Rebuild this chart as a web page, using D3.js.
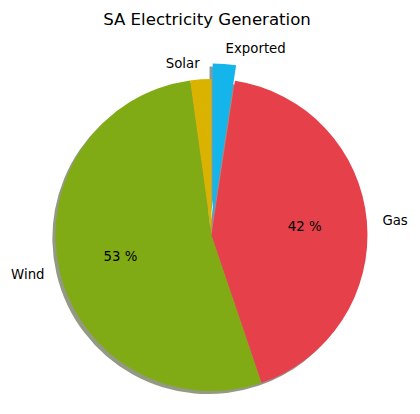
<!DOCTYPE html>
<html>
<head>
<meta charset="utf-8">
<script src="https://cdn.jsdelivr.net/npm/d3@7"></script>
<style>
  html, body { margin: 0; padding: 0; background: #fff; }
  svg text { font-family: "DejaVu Sans", sans-serif; fill: #000; }
</style>
</head>
<body>
<div id="chart"></div>
<script>
// ---- data ----
const categories = ["Solar", "Wind", "Gas", "Exported"];
const values = [2.2, 53.0, 42.4, 2.4];
const colors = ["#d9b300", "#81ab14", "#e6404a", "#13b5ea"];
const explode = [0, 0, 0, 0.1];
const showPct = [false, true, true, false];
const title = "SA Electricity Generation";

// ---- layout ----
const W = 420, H = 414;
const cx = 211.5, cy = 235, R = 156;

const svg = d3.select("#chart").append("svg")
  .attr("width", W).attr("height", H);

svg.append("text")
  .attr("x", 207).attr("y", 25)
  .attr("text-anchor", "middle")
  .style("font-size", "16.6px")
  .text(title);

const data = categories.map((c, i) => ({ name: c, value: values[i], color: colors[i], explode: explode[i], pct: showPct[i] }));
const total = d3.sum(values);

// counterclockwise from 12 o'clock, like matplotlib startangle=90
const pie = d3.pie().sort(null).value(d => d.value)
  .startAngle(0).endAngle(-2 * Math.PI);
const arcs = pie(data);

const arc = d3.arc().innerRadius(0).outerRadius(R);

function offset(a) {
  const m = (a.startAngle + a.endAngle) / 2;
  const e = a.data.explode * R;
  return [Math.sin(m) * e, -Math.cos(m) * e];
}

const g = svg.append("g").attr("transform", `translate(${cx},${cy})`);

// shadows
const sh = 0.02 * R;
g.selectAll("path.shadow").data(arcs).enter().append("path")
  .attr("class", "shadow")
  .attr("d", arc)
  .attr("transform", a => { const o = offset(a); return `translate(${o[0] - sh},${o[1] + sh})`; })
  .attr("fill", a => { const c = d3.rgb(a.data.color); return d3.rgb(c.r * 0.3, c.g * 0.3, c.b * 0.3); })
  .attr("fill-opacity", 0.5);

// wedges
g.selectAll("path.wedge").data(arcs).enter().append("path")
  .attr("class", "wedge")
  .attr("d", arc)
  .attr("transform", a => { const o = offset(a); return `translate(${o[0]},${o[1]})`; })
  .attr("fill", a => a.data.color);

// labels
g.selectAll("text.label").data(arcs).enter().append("text")
  .attr("class", "label")
  .each(function (a) {
    const m = (a.startAngle + a.endAngle) / 2;
    const o = offset(a);
    const x = o[0] + Math.sin(m) * 1.1 * R;
    const y = o[1] - Math.cos(m) * 1.1 * R;
    d3.select(this).attr("x", x).attr("y", y)
      .attr("dy", "0.35em")
      .attr("text-anchor", x > o[0] ? "start" : "end");
  })
  .style("font-size", "13.3px")
  .text(a => a.data.name);

// percentages
g.selectAll("text.pct").data(arcs.filter(a => a.data.pct)).enter().append("text")
  .attr("class", "pct")
  .each(function (a) {
    const m = (a.startAngle + a.endAngle) / 2;
    const o = offset(a);
    d3.select(this)
      .attr("x", o[0] + Math.sin(m) * 0.6 * R)
      .attr("y", o[1] - Math.cos(m) * 0.6 * R)
      .attr("dy", "0.35em")
      .attr("text-anchor", "middle");
  })
  .style("font-size", "13.3px")
  .text(a => Math.floor(a.data.value / total * 100) + " %");
</script>
</body>
</html>
